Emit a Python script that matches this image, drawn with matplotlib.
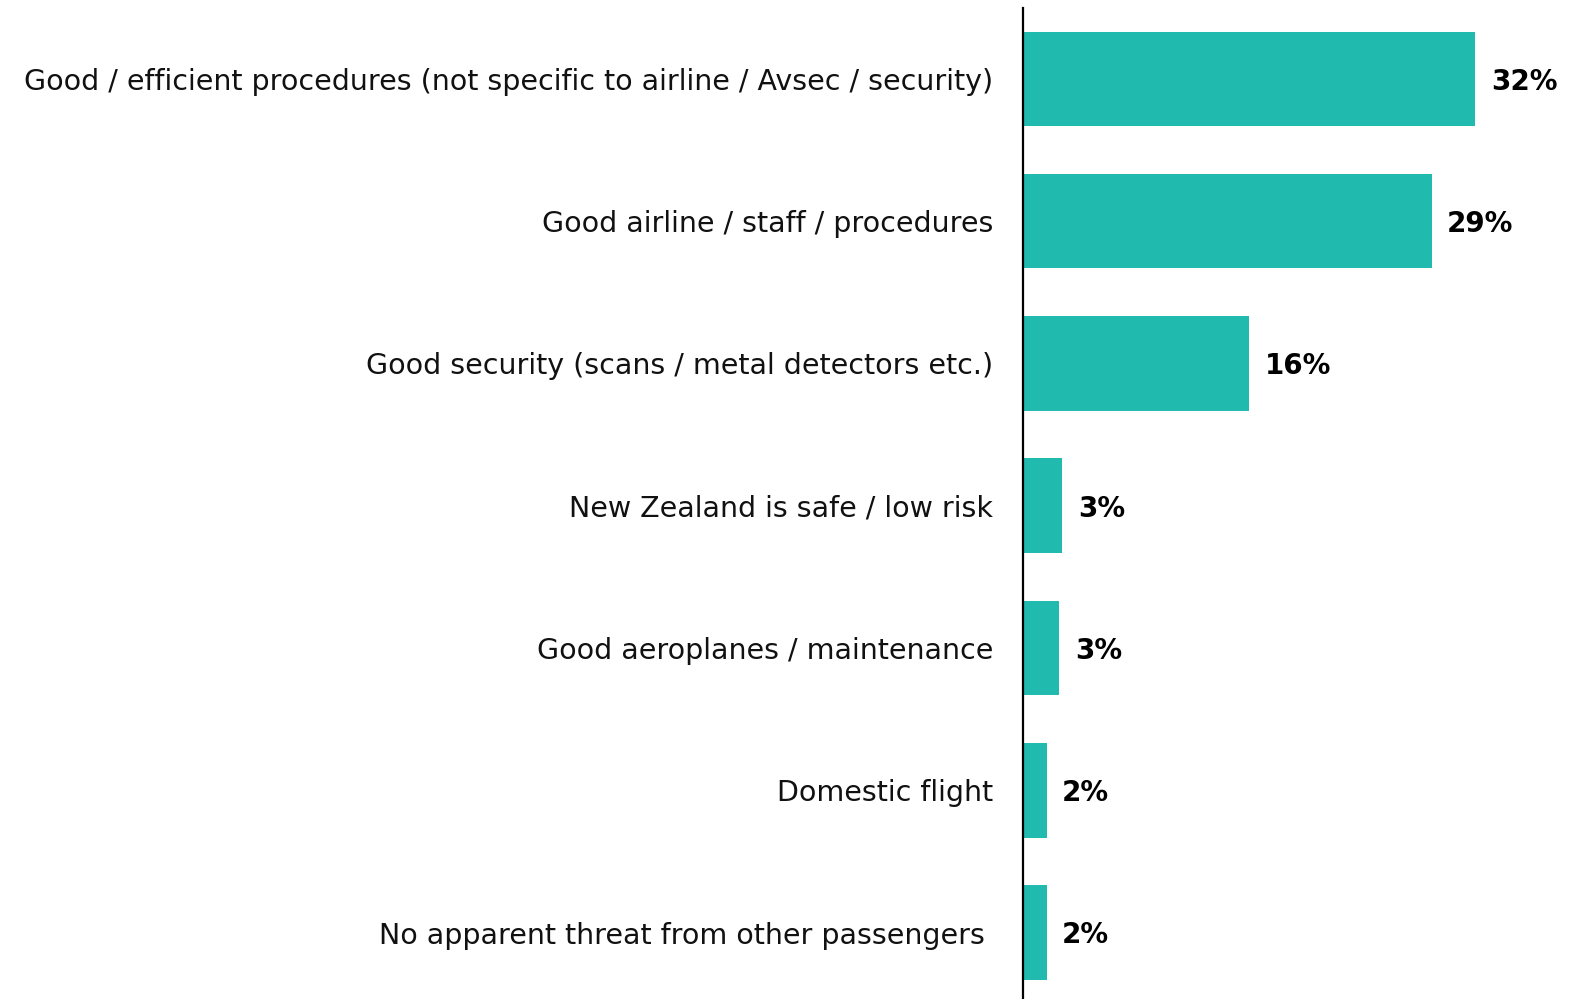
import matplotlib.pyplot as plt

plt.rcParams['font.family'] = ['DejaVu Sans']

# reasons given, top to bottom, with share of respondents (%)
reasons = [
    "Good / efficient procedures (not specific to airline / Avsec / security)",
    "Good airline / staff / procedures",
    "Good security (scans / metal detectors etc.)",
    "New Zealand is safe / low risk",
    "Good aeroplanes / maintenance",
    "Domestic flight",
    "No apparent threat from other passengers ",
]
shares = [32.0, 28.9, 16.0, 2.8, 2.6, 1.7, 1.7]

bar_color = '#21BAAF'

fig = plt.figure(figsize=(15.83, 9.99), dpi=100)
ax = fig.add_axes([0.646, -0.0047, 0.354, 0.997])

y = list(range(len(reasons)))
ax.barh(y, shares, height=0.665, color=bar_color)

for yi, v in zip(y, shares):
    ax.text(v + 1.1, yi + 0.02, f"{v:.0f}%", va='center', ha='left',
            fontsize=20, fontweight='bold', color='black')

ax.set_yticks(y)
ax.set_yticklabels(reasons, fontsize=20.5, color='#111111')
ax.tick_params(axis='y', length=0, pad=21)
ax.set_ylim(len(reasons) - 0.5, -0.5)
ax.set_xlim(0, 39.6)
ax.set_xticks([])

for side in ['top', 'right', 'bottom']:
    ax.spines[side].set_visible(False)
ax.spines['left'].set_linewidth(1.6)
ax.spines['left'].set_color('black')

fig.savefig('out.png', dpi=100)
